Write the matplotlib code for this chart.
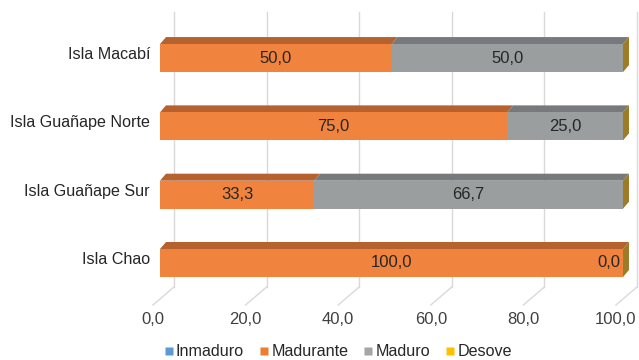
import matplotlib
matplotlib.use("Agg")
import matplotlib.pyplot as plt
from matplotlib.patches import Polygon, Rectangle
from matplotlib.lines import Line2D

plt.rcParams['font.family'] = ['Liberation Sans', 'DejaVu Sans']

# ---- data ----
islands = ["Isla Chao", "Isla Guañape Sur", "Isla Guañape Norte", "Isla Macabí"]
series = ["Inmaduro", "Madurante", "Maduro", "Desove"]
inmaduro = [0.0, 0.0, 0.0, 0.0]
madurante = [100.0, 33.3, 75.0, 50.0]
maduro = [0.0, 66.7, 25.0, 50.0]
desove = [0.0, 0.0, 0.0, 0.0]
x_ticks = [0, 20, 40, 60, 80, 100]

# ---- styling ----
front_col = ["#5B9BD5", "#F0843E", "#9B9E9F", "#FFC000"]
top_col = ["#3F73A3", "#B5622E", "#767A7C", "#A07C26"]
side_col = "#9E7B26"
legend_col = ["#5B9BD5", "#ED7D31", "#A5A5A5", "#FFC000"]
grid_col = "#D9D9D9"
text_col = "#262626"
tick_col = "#404040"

W, H = 639, 360
fig = plt.figure(figsize=(W / 100, H / 100), dpi=100)
ax = fig.add_axes([160 / W, 0, 463 / W, 1])
ax.set_xlim(0, 100)
ax.set_ylim(-1.42, 3.85)
ax.axis("off")

# pixel -> data conversion helpers (axes is linear)
PX_X = 100 / 463.0
PX_Y = (3.85 + 1.42) / H

def dx(px):
    return px * PX_X

def dy(px):
    return px * PX_Y

bar_h = 28 * PX_Y          # front face height
depth_x, depth_y = 6, 7    # bar depth (pixels)
wall_x = 14                # back wall offset (pixels)
y_wall_top = 3.85 - dy(12)
y_floor = -0.351

# back wall gridlines and floor lines
for v in x_ticks:
    ax.plot([v + dx(wall_x)] * 2, [y_floor, y_wall_top], color=grid_col, lw=1,
            zorder=0, clip_on=False)
    ax.plot([v + dx(wall_x), v - dx(7)], [y_floor, y_floor - dy(18)],
            color=grid_col, lw=1, zorder=0, clip_on=False)
    ax.text(v - dx(7), y_floor - dy(33), f"{v:.1f}".replace(".", ","),
            ha="center", va="center", fontsize=12, color=tick_col)

values = [inmaduro, madurante, maduro, desove]
for i, name in enumerate(islands):
    y0 = i - bar_h / 2
    y1 = i + bar_h / 2
    left = 0.0
    for s, vals in enumerate(values):
        w = vals[i]
        if w > 0:
            ax.add_patch(Rectangle((left, y0), w, bar_h, facecolor=front_col[s],
                                   edgecolor="none", zorder=3, clip_on=False))
            ax.add_patch(Polygon([(left, y1), (left + w, y1),
                                  (left + w + dx(depth_x), y1 + dy(depth_y)),
                                  (left + dx(depth_x), y1 + dy(depth_y))],
                                 closed=True, facecolor=top_col[s], edgecolor="none",
                                 zorder=2, clip_on=False))
        left += w
    # right side face
    ax.add_patch(Polygon([(left, y0), (left, y1),
                          (left + dx(depth_x), y1 + dy(depth_y)),
                          (left + dx(depth_x), y0 + dy(depth_y))],
                         closed=True, facecolor=side_col, edgecolor="none",
                         zorder=2, clip_on=False))
    # data labels for Madurante and Maduro
    m = madurante[i]
    ax.text(m / 2, i, f"{m:.1f}".replace(".", ","), ha="center", va="center",
            fontsize=12, color=text_col, zorder=5)
    r = maduro[i]
    if r > 0:
        ax.text(m + r / 2, i, f"{r:.1f}".replace(".", ","), ha="center", va="center",
                fontsize=12, color=text_col, zorder=5)
    else:
        ax.text(m - dx(3), i, f"{r:.1f}".replace(".", ","), ha="right", va="center",
                fontsize=12, color=text_col, zorder=5)
    # category label
    ax.text(-dx(10), i + dy(3.5), name, ha="right", va="center",
            fontsize=11.6, color=text_col)

handles = [Line2D([], [], marker="s", linestyle="none", markersize=6,
                  markerfacecolor=c, markeredgecolor="none") for c in legend_col]
fig.legend(handles, series, loc="center", bbox_to_anchor=(338 / W, 1 - 352 / H),
           ncol=4, frameon=False, fontsize=11.6, handlelength=0.6, handletextpad=0.15,
           columnspacing=0.95, labelcolor=text_col)

fig.savefig("out.png", dpi=100)
